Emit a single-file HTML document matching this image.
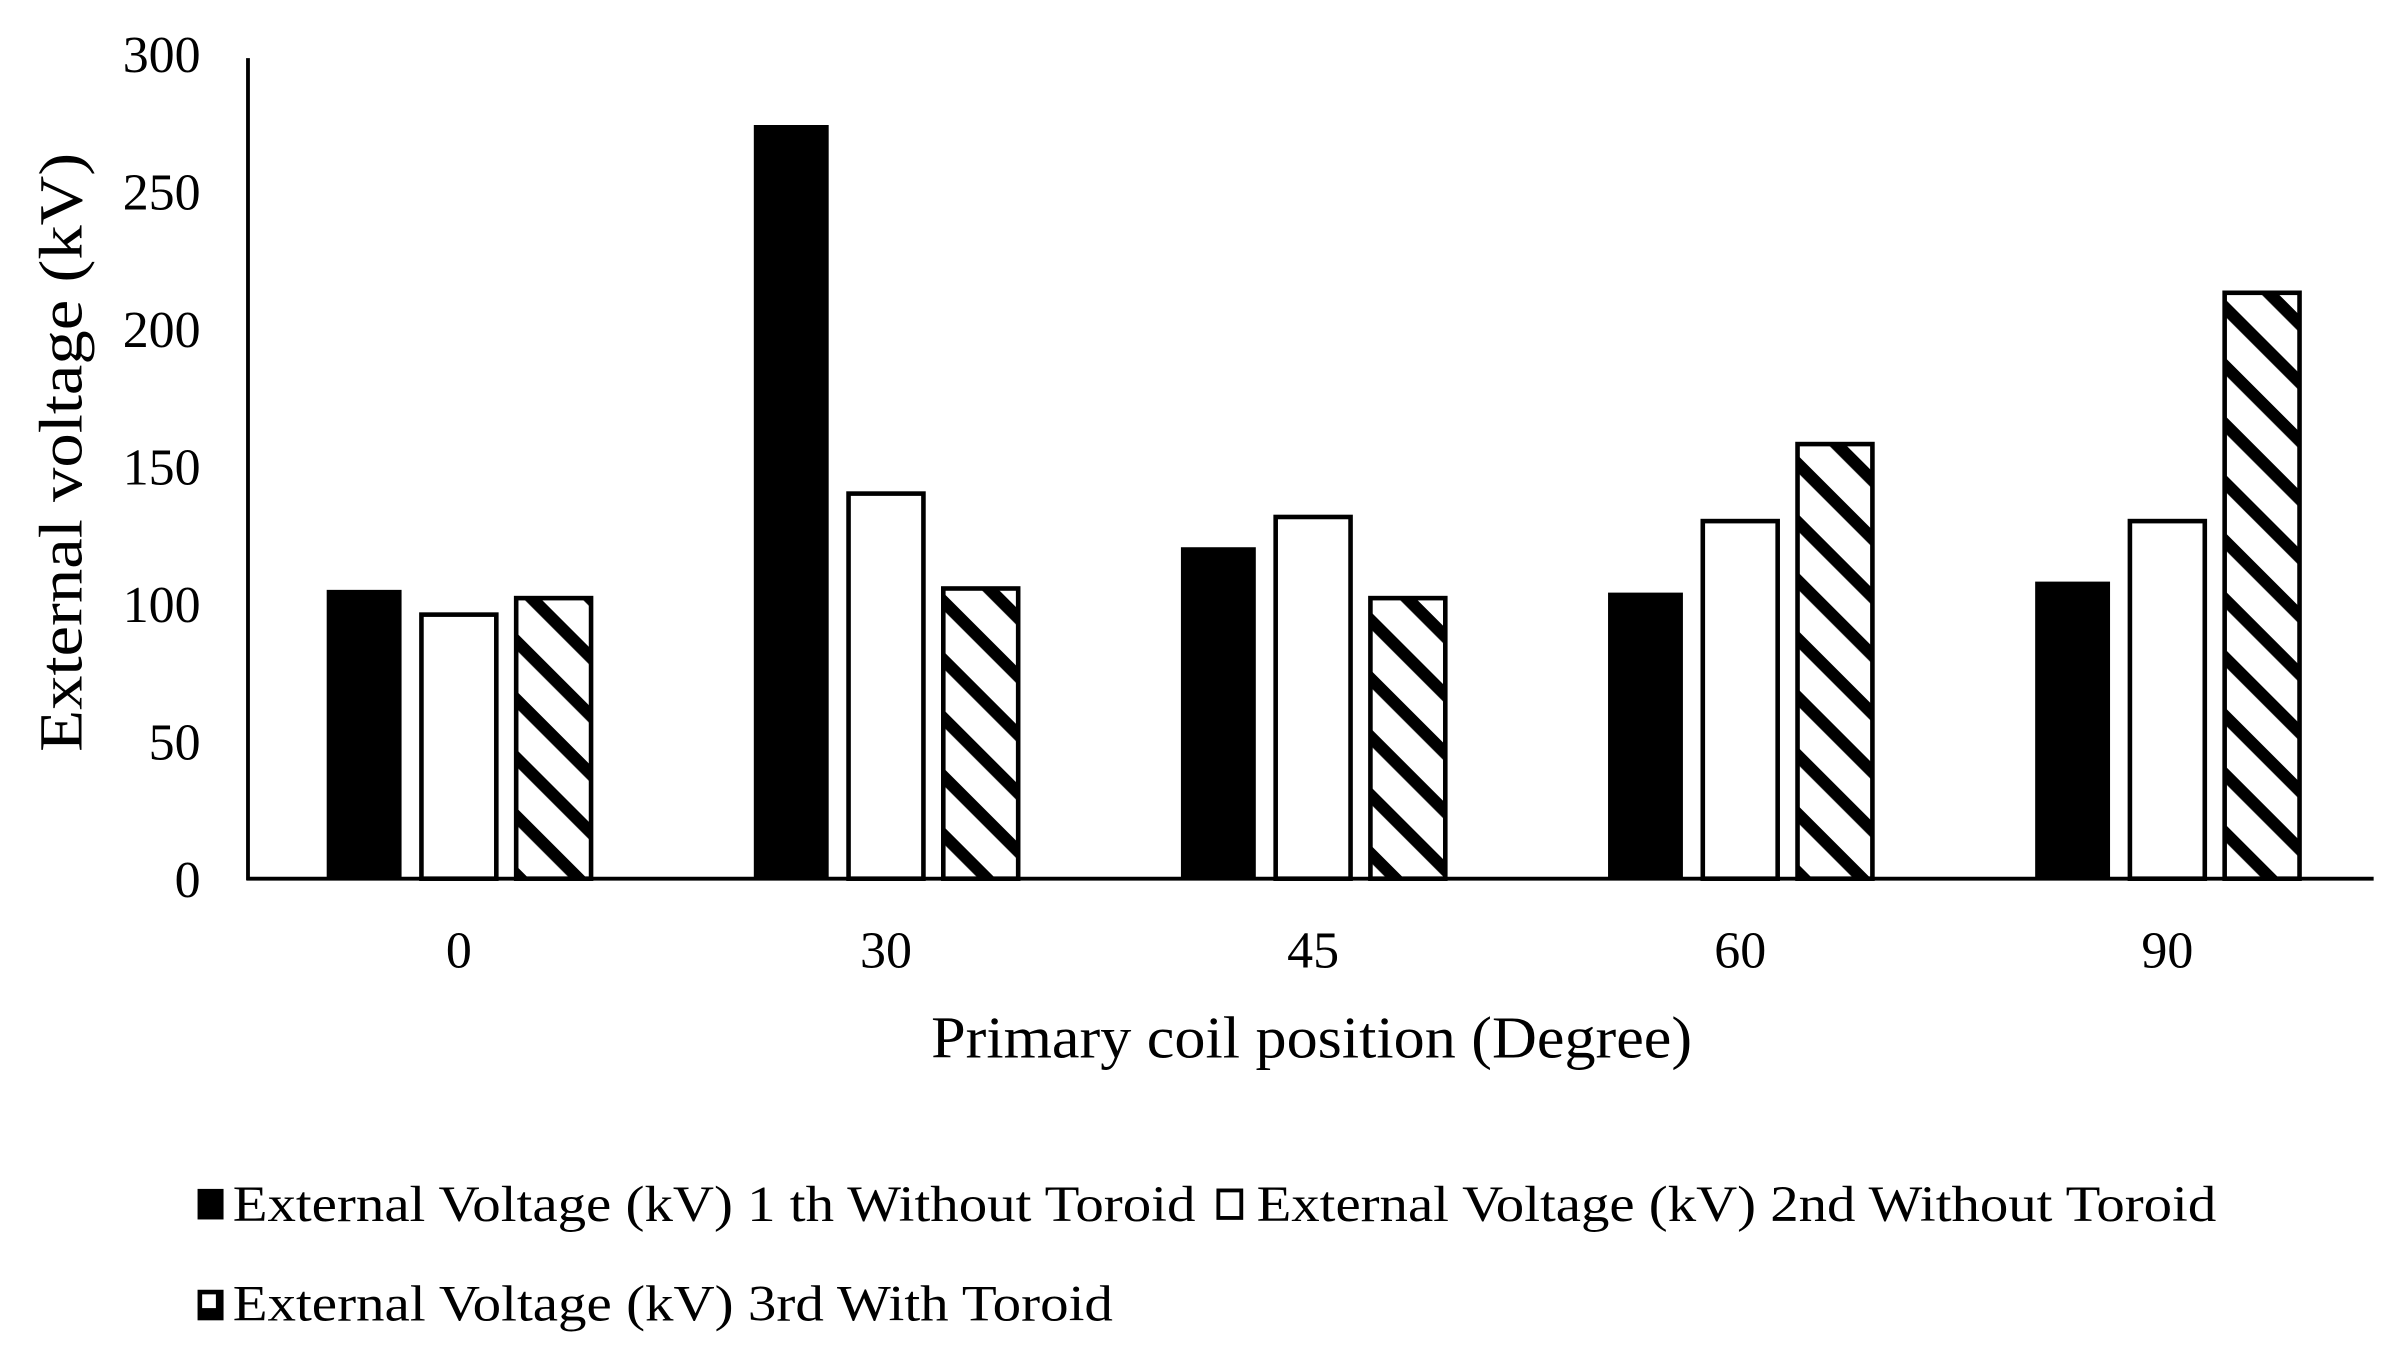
<!DOCTYPE html>
<html><head><meta charset="utf-8"><style>
html,body{margin:0;padding:0;background:#fff;}
svg{display:block;font-family:"Liberation Serif",serif;}
</style></head><body>
<svg id="chart" width="2397" height="1357" viewBox="0 0 1568 888" xmlns="http://www.w3.org/2000/svg">
<defs>
<pattern id="hatch" patternUnits="userSpaceOnUse" width="27" height="27" patternTransform="rotate(45)">
<rect width="27" height="27" fill="#fff"/>
<rect x="0" y="0" width="27" height="8" fill="#000"/>
</pattern>
</defs>
<g id="bars"></g>
<line x1="162" y1="38" x2="162" y2="576" stroke="#000" stroke-width="2.5"/>
<line x1="161" y1="575" x2="1553" y2="575" stroke="#000" stroke-width="2.5"/>
<g id="yticks" font-size="34" text-anchor="end"></g>
<g id="xticks" font-size="34" text-anchor="middle"></g>
<text transform="translate(44,296) rotate(-90)" font-size="40" text-anchor="middle" dominant-baseline="middle" textLength="392" lengthAdjust="spacingAndGlyphs">External voltage (kV)</text>
<text x="858" y="692" font-size="39" text-anchor="middle" textLength="498" lengthAdjust="spacingAndGlyphs">Primary coil position (Degree)</text>
<g font-size="33">
<g>
<rect x="129" y="778" width="17" height="20" fill="#000"/>
<text x="152" y="799" textLength="630" lengthAdjust="spacingAndGlyphs">External Voltage (kV) 1 th Without Toroid</text>
</g>
<g>
<rect x="797" y="779" width="15" height="18" fill="#fff" stroke="#000" stroke-width="2.5"/>
<text x="822" y="799" textLength="628" lengthAdjust="spacingAndGlyphs">External Voltage (kV) 2nd Without Toroid</text>
</g>
<g>
<rect x="129" y="844" width="17" height="20" fill="#000"/>
<rect x="132" y="847" width="9" height="9" fill="#fff"/>
<text x="152" y="864" textLength="576" lengthAdjust="spacingAndGlyphs">External Voltage (kV) 3rd With Toroid</text>
</g>
</g>
</svg>
<script>
const categories = ["0","30","45","60","90"];
const series1 = [105, 274, 120.5, 104, 108];
const series2 = [96, 140, 131.5, 130, 130];
const series3 = [102, 105.5, 102, 158, 213];
const yTicks = [0, 50, 100, 150, 200, 250, 300];

const NS = "http://www.w3.org/2000/svg";
const y0 = 575, pxPerUnit = 1.8;
function yScale(v){ return y0 - v * pxPerUnit; }
const xStart = 300, groupStep = 279.5;
function xCenter(i){ return xStart + i * groupStep; }
const barW = 49, barStep = 62;

const barsG = document.getElementById('bars');
const allSeries = [series1, series2, series3];
const fills = ["#000", "#fff", "url(#hatch)"];
allSeries.forEach((s, si) => {
  s.forEach((v, i) => {
    const r = document.createElementNS(NS, 'rect');
    const x = xCenter(i) + (si - 1) * barStep - barW / 2;
    r.setAttribute('x', x);
    r.setAttribute('y', yScale(v));
    r.setAttribute('width', barW);
    r.setAttribute('height', y0 - yScale(v));
    r.setAttribute('fill', fills[si]);
    if (si > 0) { r.setAttribute('stroke', '#000'); r.setAttribute('stroke-width', '3'); }
    
    
    barsG.appendChild(r);
  });
});

const yt = document.getElementById('yticks');
yTicks.forEach(t => {
  const el = document.createElementNS(NS, 'text');
  el.setAttribute('x', 131);
  el.setAttribute('y', yScale(t) + 12);
  el.textContent = t;
  
  
  yt.appendChild(el);
});
const xt = document.getElementById('xticks');
categories.forEach((c, i) => {
  const el = document.createElementNS(NS, 'text');
  el.setAttribute('x', xCenter(i));
  el.setAttribute('y', 633);
  el.textContent = c;
  
  
  xt.appendChild(el);
});
</script>
</body></html>
